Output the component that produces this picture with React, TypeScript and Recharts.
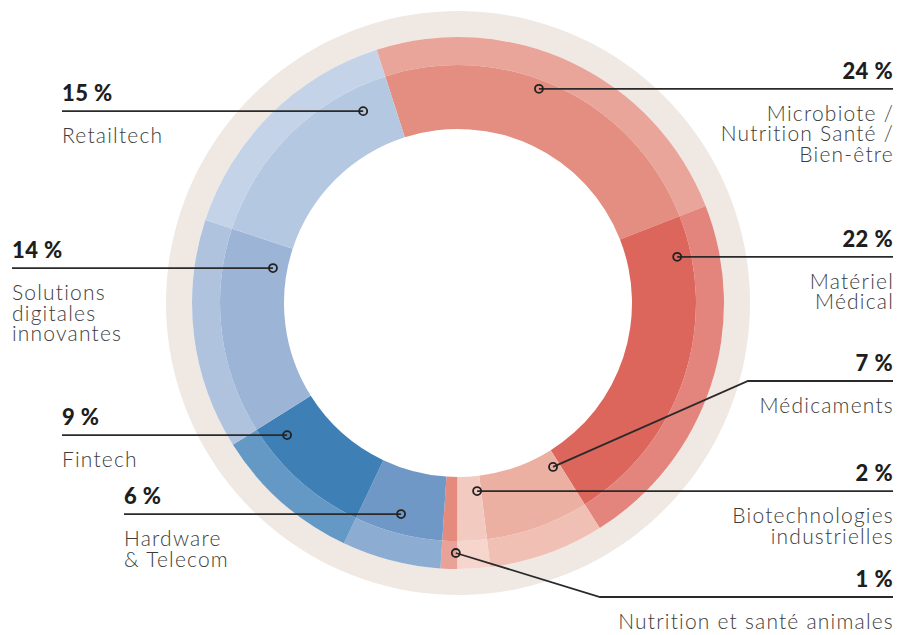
import React from 'react';
import { PieChart, Pie, Cell } from 'recharts';

// ---------- data ----------
const categories = [
  'Microbiote / Nutrition Santé / Bien-être',
  'Matériel Médical',
  'Médicaments',
  'Biotechnologies industrielles',
  'Nutrition et santé animales',
  'Hardware & Telecom',
  'Fintech',
  'Solutions digitales innovantes',
  'Retailtech',
];
const shares = [24, 22, 7, 2, 1, 6, 9, 14, 15];
const nameLines = [
  ['Microbiote /', 'Nutrition Santé /', 'Bien-être'],
  ['Matériel', 'Médical'],
  ['Médicaments'],
  ['Biotechnologies', 'industrielles'],
  ['Nutrition et santé animales'],
  ['Hardware', '& Telecom'],
  ['Fintech'],
  ['Solutions', 'digitales', 'innovantes'],
  ['Retailtech'],
];
const colors = ['#e38e80', '#dc665c', '#ecb0a2', '#f3cabf', '#e48b7e', '#6f98c6', '#3e7fb6', '#9cb4d6', '#b5c8e1'];

// ---------- annotation layout ----------
const labelLayout = [
  { side: 'right', x: 893, dotAngle: 69.3, dotR: 229 },
  { side: 'right', x: 893, dotAngle: 11.9, dotR: 224 },
  { side: 'right', x: 893, dotAngle: -59.9, dotR: 189.5, lineY: 381, elbowX: 748 },
  { side: 'right', x: 893, dotAngle: -84.2, dotR: 189 },
  { side: 'right', x: 893, dotAngle: -90.5, dotR: 250, lineY: 597, elbowX: 600 },
  { side: 'left', x: 124, dotAngle: -105.1, dotR: 218.6 },
  { side: 'left', x: 62, dotAngle: -142.3, dotR: 216 },
  { side: 'left', x: 12, dotAngle: 169.3, dotR: 188.3 },
  { side: 'left', x: 62, dotAngle: 116.3, dotR: 214 },
];

const data = categories.map((name, i) => ({ name, value: shares[i] }));
const ring = [{ name: 'ring', value: 1 }];

const CX = 458;
const CY = 303;
const START = 107.8;
const END = START - 360;
const RAD = Math.PI / 180;
const FONT = 'Lato, "Open Sans", sans-serif';

const renderLabel = (props: any) => {
  const i = props.index;
  const lay = labelLayout[i];
  const cx = CX;
  const cy = CY;
  const dx = cx + lay.dotR * Math.cos(lay.dotAngle * RAD);
  const dy = cy - lay.dotR * Math.sin(lay.dotAngle * RAD);
  const lineY = lay.lineY !== undefined ? lay.lineY : dy;
  const right = lay.side === 'right';
  let points: string;
  if (lay.elbowX !== undefined) {
    points = `${dx},${dy} ${lay.elbowX},${lineY} ${lay.x},${lineY}`;
  } else {
    points = `${dx},${dy} ${lay.x},${lineY}`;
  }
  const anchor = right ? 'end' : 'start';
  return (
    <g key={`lab-${i}`}>
      <polyline points={points} fill="none" stroke="#2a2a2a" strokeWidth={1.8} />
      <circle cx={dx} cy={dy} r={4} fill="none" stroke="#222" strokeWidth={1.8} />
      <text x={lay.x} y={lineY - 10} textAnchor={anchor} fontFamily={FONT} fontSize={22} fontWeight={900} fill="#1e1e1e" letterSpacing={0.4}>
        {`${shares[i]} %`}
      </text>
      {nameLines[i].map((ln, k) => (
        <text key={k} x={right ? lay.x + 1 : lay.x} y={lineY + 32 + k * 20.5} textAnchor={anchor} fontFamily={FONT} fontSize={21} fontWeight={300} fill="#3c3c3c" letterSpacing={1.2}>
          {ln}
        </text>
      ))}
    </g>
  );
};

export default function App() {
  return (
    <div style={{ position: 'absolute', left: 0, top: 0, width: 898, height: 635, background: '#fff' }}>
      <PieChart width={898} height={635} margin={{ top: 0, right: 0, bottom: 0, left: 0 }}>
        <Pie data={ring} dataKey="value" cx={CX} cy={CY} innerRadius={266} outerRadius={292} startAngle={90} endAngle={-270} stroke="none" fill="#efe8e3" isAnimationActive={false} />
        <Pie data={data} dataKey="value" cx={CX} cy={CY} innerRadius={174} outerRadius={238} startAngle={START} endAngle={END} stroke="none" isAnimationActive={false}>
          {data.map((d, i) => (
            <Cell key={d.name} fill={colors[i]} />
          ))}
        </Pie>
        <Pie data={data} dataKey="value" cx={CX} cy={CY} innerRadius={238} outerRadius={266} startAngle={START} endAngle={END} stroke="none" isAnimationActive={false} label={renderLabel} labelLine={false}>
          {data.map((d, i) => (
            <Cell key={d.name} fill={colors[i]} fillOpacity={0.8} />
          ))}
        </Pie>
      </PieChart>
    </div>
  );
}
